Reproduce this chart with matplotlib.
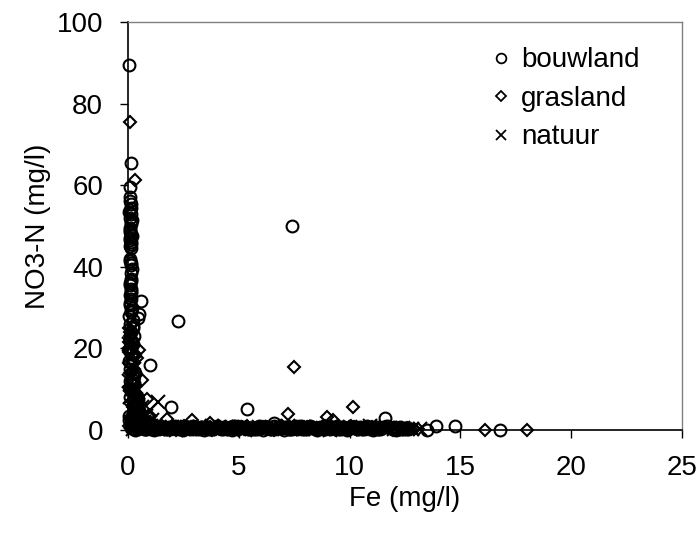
import matplotlib
matplotlib.use("Agg")
import matplotlib.pyplot as plt
from matplotlib.lines import Line2D

plt.rcParams['font.family'] = ['Liberation Sans', 'DejaVu Sans']

# ---------------- data ----------------
bouwland_fe = [
    # column along the y axis and scattered points
    0.05, 0.15, 0.10, 0.10, 0.12, 0.10, 0.15, 0.10, 0.12, 0.10, 0.15, 0.10,
    0.08, 0.12, 0.15, 0.10, 0.12, 0.15, 0.15, 0.10, 0.12, 0.10, 0.15, 0.60,
    0.10, 0.12, 0.50, 0.45, 0.20, 2.25, 0.10, 0.15, 0.10, 0.20, 0.10, 0.15,
    1.00, 0.10, 0.20, 0.10, 0.15, 0.10, 0.20, 1.95, 0.30, 0.50, 7.40, 5.35,
    6.60, 11.60, 13.50, 13.90, 14.75, 16.80,
    0.05, 0.25, 0.35, 0.05, 0.30, 0.40, 0.15, 0.45,
    0.08, 0.14, 0.11, 0.09, 0.13, 0.10, 0.12, 0.08, 0.14, 0.11, 0.10, 0.13,
    0.20, 0.25, 0.05, 0.30, 0.18, 0.22, 0.35, 0.28, 0.05, 0.40, 0.15, 0.25,
    0.06, 0.18, 0.09, 0.16, 0.07, 0.19, 0.11, 0.17, 0.06, 0.21,
    # band along the x axis
    0.25, 0.40, 0.70, 0.90, 1.10, 1.40, 1.60, 1.90, 2.20, 2.40, 2.70, 3.00,
    3.20, 3.50, 3.80, 4.10, 4.30, 4.60, 4.90, 5.10, 5.40, 5.70, 6.00, 6.30,
    6.50, 6.80, 7.10, 7.40, 7.70, 8.00, 8.30, 8.60, 8.90, 9.20, 9.50, 9.80,
    10.10, 10.40, 10.70, 11.00, 11.30, 11.90, 12.20, 12.50, 11.70, 12.00,
    0.55, 0.80, 1.25, 1.75, 2.05, 2.55, 2.85, 3.35, 3.65, 3.95, 4.45, 4.75,
    5.25, 5.55, 5.85, 6.15, 6.65, 6.95, 7.25, 7.55, 7.85, 8.15, 8.45, 8.75,
    9.05, 9.35, 9.65, 9.95, 10.25, 10.55, 10.85, 11.15, 11.45, 12.35, 12.65,
    0.32, 0.48, 0.62, 0.75, 0.98, 1.18, 1.33, 1.52, 1.68, 1.83, 2.12, 2.28,
    2.47, 2.63, 2.78, 2.93, 3.08, 3.27, 3.42, 3.58, 3.73, 3.88, 4.03, 4.18,
    4.37, 4.52, 4.68, 4.83, 4.98, 5.18, 5.32, 5.47, 5.63, 5.78, 5.93, 6.08,
    6.23, 6.42, 6.58, 6.73, 6.88, 7.03, 7.18, 7.33, 7.48, 7.63, 7.78, 7.93,
    8.08, 8.23, 8.38, 8.53, 8.68, 8.83, 8.98, 9.13, 9.28, 9.43, 9.58, 9.73,
    9.88, 10.03, 10.18, 10.33, 10.48, 10.63, 10.78, 10.93, 11.08, 11.23, 11.38,
    11.53, 11.83, 12.08, 12.28, 12.43, 12.58,
]
bouwland_no3 = [
    89.5, 65.5, 59.5, 57.0, 55.5, 54.0, 53.0, 52.0, 50.5, 49.5, 48.0, 47.0,
    46.5, 46.0, 45.5, 41.5, 41.0, 40.5, 37.0, 35.5, 34.0, 33.0, 32.0, 31.5,
    30.5, 29.0, 28.5, 27.5, 27.0, 26.8, 26.0, 24.0, 22.0, 21.0, 20.0, 18.5,
    16.0, 15.0, 13.0, 12.0, 10.0, 8.0, 6.0, 5.5, 4.0, 3.0, 50.0, 5.0,
    1.7, 2.9, 0.0, 1.0, 1.0, 0.0,
    17.0, 9.0, 6.5, 3.5, 2.0, 1.0, 0.5, 7.5,
    56.0, 54.5, 51.0, 49.0, 44.5, 42.0, 38.5, 36.0, 34.5, 33.5, 31.0, 29.5,
    25.0, 23.0, 19.5, 14.0, 11.0, 9.5, 7.0, 5.0, 2.5, 4.5, 1.5, 11.5,
    53.5, 51.5, 48.5, 47.5, 45.0, 39.5, 36.5, 30.0, 28.0, 25.5,
    0.3, 0.6, 0.2, 0.8, 0.4, 0.1, 0.7, 0.3, 0.5, 0.2, 0.6, 0.4,
    0.1, 0.7, 0.3, 0.5, 0.2, 0.6, 0.4, 0.8, 0.3, 0.1, 0.5, 0.7,
    0.2, 0.4, 0.6, 0.3, 0.5, 0.1, 0.7, 0.4, 0.2, 0.6, 0.3, 0.5,
    0.8, 0.2, 0.4, 0.6, 0.3, 0.5, 0.2, 0.4, 0.9, 0.6,
    0.9, 0.1, 0.5, 0.2, 0.8, 0.4, 0.1, 0.7, 0.3, 0.6, 0.2, 0.9,
    0.4, 0.1, 0.6, 0.8, 0.2, 0.5, 0.1, 0.9, 0.3, 0.7, 0.1, 0.4,
    0.6, 0.2, 0.8, 0.3, 0.5, 0.1, 0.7, 0.3, 0.5, 0.2, 0.3,
    0.0, 0.5, 0.9, 0.2, 0.7, 0.0, 0.4, 0.8, 0.1, 0.6, 1.0, 0.3,
    0.0, 0.7, 0.4, 0.9, 0.2, 0.6, 0.0, 0.8, 0.3, 0.5, 1.0, 0.1,
    0.7, 0.4, 0.0, 0.9, 0.2, 0.6, 0.8, 0.1, 0.5, 0.3, 1.0, 0.0,
    0.6, 0.2, 0.9, 0.4, 0.7, 0.0, 0.8, 0.3, 0.5, 0.1, 1.0, 0.6,
    0.2, 0.9, 0.4, 0.0, 0.7, 0.3, 0.8, 0.1, 0.5, 0.9, 0.2, 0.6,
    0.0, 0.4, 0.8, 0.1, 0.7, 0.3, 0.9, 0.5, 0.0, 0.6, 0.2,
    0.8, 0.4, 0.0, 0.6, 0.3, 0.1,
]

grasland_fe = [
    0.08, 0.30, 7.50, 10.15, 7.20, 9.00, 9.25, 2.90, 3.70, 1.75, 16.10, 18.00,
    0.63, 0.86,
    0.05, 0.10, 0.15, 0.05, 0.20, 0.10, 0.30, 0.20, 0.40, 0.10, 0.50, 0.30,
    0.70, 0.05, 0.25, 0.15, 0.35, 0.55,
    0.10, 0.20, 0.05, 0.30, 0.15, 0.25, 0.35, 0.45, 0.10, 0.20, 0.60, 0.80,
    1.00, 1.20, 0.90,
    0.02, 0.12, 0.22, 0.32, 0.42, 0.08, 0.18, 0.28, 0.38, 0.48, 0.03, 0.13,
    0.23, 0.33, 0.06, 0.16, 0.26, 0.36, 0.46, 0.58,
    0.30, 0.55, 0.80, 1.05, 1.30, 1.55, 2.05, 2.35, 2.60, 2.85, 3.15, 3.45,
    3.70, 3.95, 4.25, 4.50, 4.75, 5.00, 5.25, 5.55, 5.80, 6.10, 6.40, 6.70,
    6.95, 7.25, 7.55, 7.80, 8.10, 8.40, 8.70, 9.00, 9.35, 9.60, 9.90, 10.20,
    10.50, 10.80, 11.10, 11.45, 11.80, 12.10, 12.60, 13.10,
    0.45, 0.95, 1.45, 1.90, 2.45, 3.05, 3.55, 4.05, 4.60, 5.15, 5.65, 6.25,
    6.80, 7.35, 7.95, 8.55, 9.15, 9.75, 10.35, 10.95, 11.60, 12.30, 12.90,
    0.38, 0.68, 0.88, 1.13, 1.38, 1.63, 1.98, 2.18, 2.52, 2.72, 2.98, 3.23,
    3.52, 3.78, 4.12, 4.38, 4.62, 4.88, 5.12, 5.38, 5.72, 5.98, 6.32, 6.58,
    6.85, 7.12, 7.42, 7.68, 7.98, 8.28, 8.58, 8.88, 9.18, 9.48, 9.82, 10.08,
    10.38, 10.68, 11.02, 11.32, 11.68, 11.98, 12.38, 12.78,
]
grasland_no3 = [
    75.5, 61.3, 15.4, 5.5, 3.9, 3.2, 2.5, 2.5, 1.7, 2.7, 0.0, 0.0,
    12.3, 7.6,
    25.0, 23.0, 21.0, 19.0, 17.0, 14.0, 11.0, 9.5, 8.0, 6.5, 5.0, 3.5,
    2.0, 10.5, 4.5, 1.5, 13.5, 1.0,
    24.0, 22.0, 20.0, 18.0, 16.0, 12.5, 9.0, 7.0, 3.0, 5.5, 2.5, 1.5,
    2.0, 1.2, 3.5,
    1.0, 2.5, 4.0, 6.0, 8.5, 10.0, 12.0, 15.0, 17.5, 19.5, 21.5, 23.5,
    20.5, 18.5, 16.5, 14.5, 11.5, 9.0, 6.0, 4.0,
    0.5, 0.2, 0.7, 0.4, 0.1, 0.6, 0.3, 0.5, 0.2, 0.7, 0.4, 0.1,
    0.6, 0.3, 0.5, 0.2, 0.4, 0.7, 0.1, 0.5, 0.3, 0.6, 0.2, 0.4,
    0.8, 0.3, 0.5, 0.1, 0.6, 0.4, 0.2, 0.7, 0.3, 0.5, 0.1, 0.6,
    0.4, 0.2, 0.5, 0.3, 0.6, 0.2, 0.4, 0.1,
    0.8, 0.3, 0.6, 0.1, 0.7, 0.2, 0.5, 0.9, 0.3, 0.6, 0.1, 0.8,
    0.4, 0.2, 0.7, 0.3, 0.9, 0.1, 0.5, 0.2, 0.6, 0.3, 0.2,
    0.0, 0.9, 0.5, 0.1, 0.8, 0.3, 0.6, 0.0, 1.0, 0.4, 0.7, 0.2,
    0.9, 0.0, 0.5, 0.8, 0.3, 0.1, 0.6, 1.0, 0.2, 0.7, 0.4, 0.0,
    0.9, 0.5, 0.1, 0.8, 0.3, 0.6, 0.0, 1.0, 0.4, 0.7, 0.2, 0.9,
    0.5, 0.1, 0.8, 0.3, 0.6, 0.0, 0.4, 0.2,
]

natuur_fe = [
    1.35, 1.00, 0.50, 0.70, 0.20, 0.10, 0.05, 0.30, 0.15, 0.40, 0.60, 0.25,
    0.80, 0.55, 0.35, 0.90, 1.10, 0.45, 0.65, 0.15, 0.05, 0.30,
    0.20, 0.35, 0.60, 0.85, 1.20, 1.50, 2.00, 2.50, 3.00, 3.60, 4.00, 4.40,
    5.00, 5.60, 6.20, 6.90, 7.60, 8.20, 8.80, 9.40, 10.00, 10.60, 11.30, 12.00,
    12.40, 12.80, 13.20,
    0.42, 0.72, 1.02, 1.35, 1.72, 2.15, 2.65, 3.25, 3.80, 4.20, 4.70, 5.30,
    5.90, 6.50, 7.20, 7.90, 8.50, 9.10, 9.70, 10.30, 10.90, 11.60,
]
natuur_no3 = [
    6.9, 4.9, 3.0, 2.0, 10.0, 8.0, 12.0, 5.0, 2.0, 7.0, 1.0, 15.0,
    3.5, 4.5, 2.5, 1.5, 2.5, 6.0, 5.5, 18.0, 21.0, 9.0,
    0.3, 0.6, 0.2, 0.5, 0.4, 0.1, 0.6, 0.3, 0.5, 0.2, 0.4, 0.7,
    0.3, 0.5, 0.1, 0.4, 0.6, 0.2, 0.5, 0.3, 0.6, 0.2, 0.4, 0.3,
    0.5, 0.2, 0.1,
    0.8, 0.1, 0.9, 0.2, 0.7, 0.0, 0.8, 0.2, 0.9, 0.1, 0.7, 0.0,
    0.8, 0.2, 0.9, 0.1, 0.7, 0.0, 0.8, 0.2, 0.9, 0.1,
]

series_names = ['bouwland', 'grasland', 'natuur']
x_ticks = [0, 5, 10, 15, 20, 25]
y_ticks = [0, 20, 40, 60, 80, 100]

# ---------------- figure ----------------
fig = plt.figure(figsize=(7.0, 5.38), dpi=100)
ax = fig.add_axes([0.183, 0.201, 0.791, 0.758])

mew = 1.5
ax.plot(bouwland_fe, bouwland_no3, ls='none', marker='o', ms=8.5,
        mfc='none', mec='black', mew=mew, clip_on=False)
ax.plot(grasland_fe, grasland_no3, ls='none', marker='D', ms=6.5,
        mfc='none', mec='black', mew=mew, clip_on=False)
ax.plot(natuur_fe, natuur_no3, ls='none', marker='x', ms=10,
        mfc='none', mec='black', mew=mew, clip_on=False)

ax.set_xlim(0, 25)
ax.set_ylim(0, 100)
ax.set_xticks(x_ticks)
ax.set_yticks(y_ticks)
ax.tick_params(axis='both', direction='out', length=6, width=1,
               color='black', labelsize=20)
ax.tick_params(axis='x', pad=12)
ax.tick_params(axis='y', pad=12)

for s in ['top', 'right']:
    ax.spines[s].set_color('#808080')
    ax.spines[s].set_linewidth(1)
for s in ['left', 'bottom']:
    ax.spines[s].set_color('black')
    ax.spines[s].set_linewidth(1.2)

ax.set_xlabel('Fe (mg/l)', fontsize=20, labelpad=4)
ax.set_ylabel('NO3-N (mg/l)', fontsize=20, labelpad=4)

handles = [
    Line2D([], [], ls='none', marker='o', ms=7, mfc='none', mec='black', mew=1.3),
    Line2D([], [], ls='none', marker='D', ms=5.5, mfc='none', mec='black', mew=1.3),
    Line2D([], [], ls='none', marker='x', ms=7, mfc='none', mec='black', mew=1.3),
]
ax.legend(handles, series_names, loc='upper left', bbox_to_anchor=(0.634, 0.965),
          frameon=False, fontsize=20, handlelength=0.8, handletextpad=0.3,
          labelspacing=0.45, borderaxespad=0)

fig.savefig('out.png', dpi=100)
